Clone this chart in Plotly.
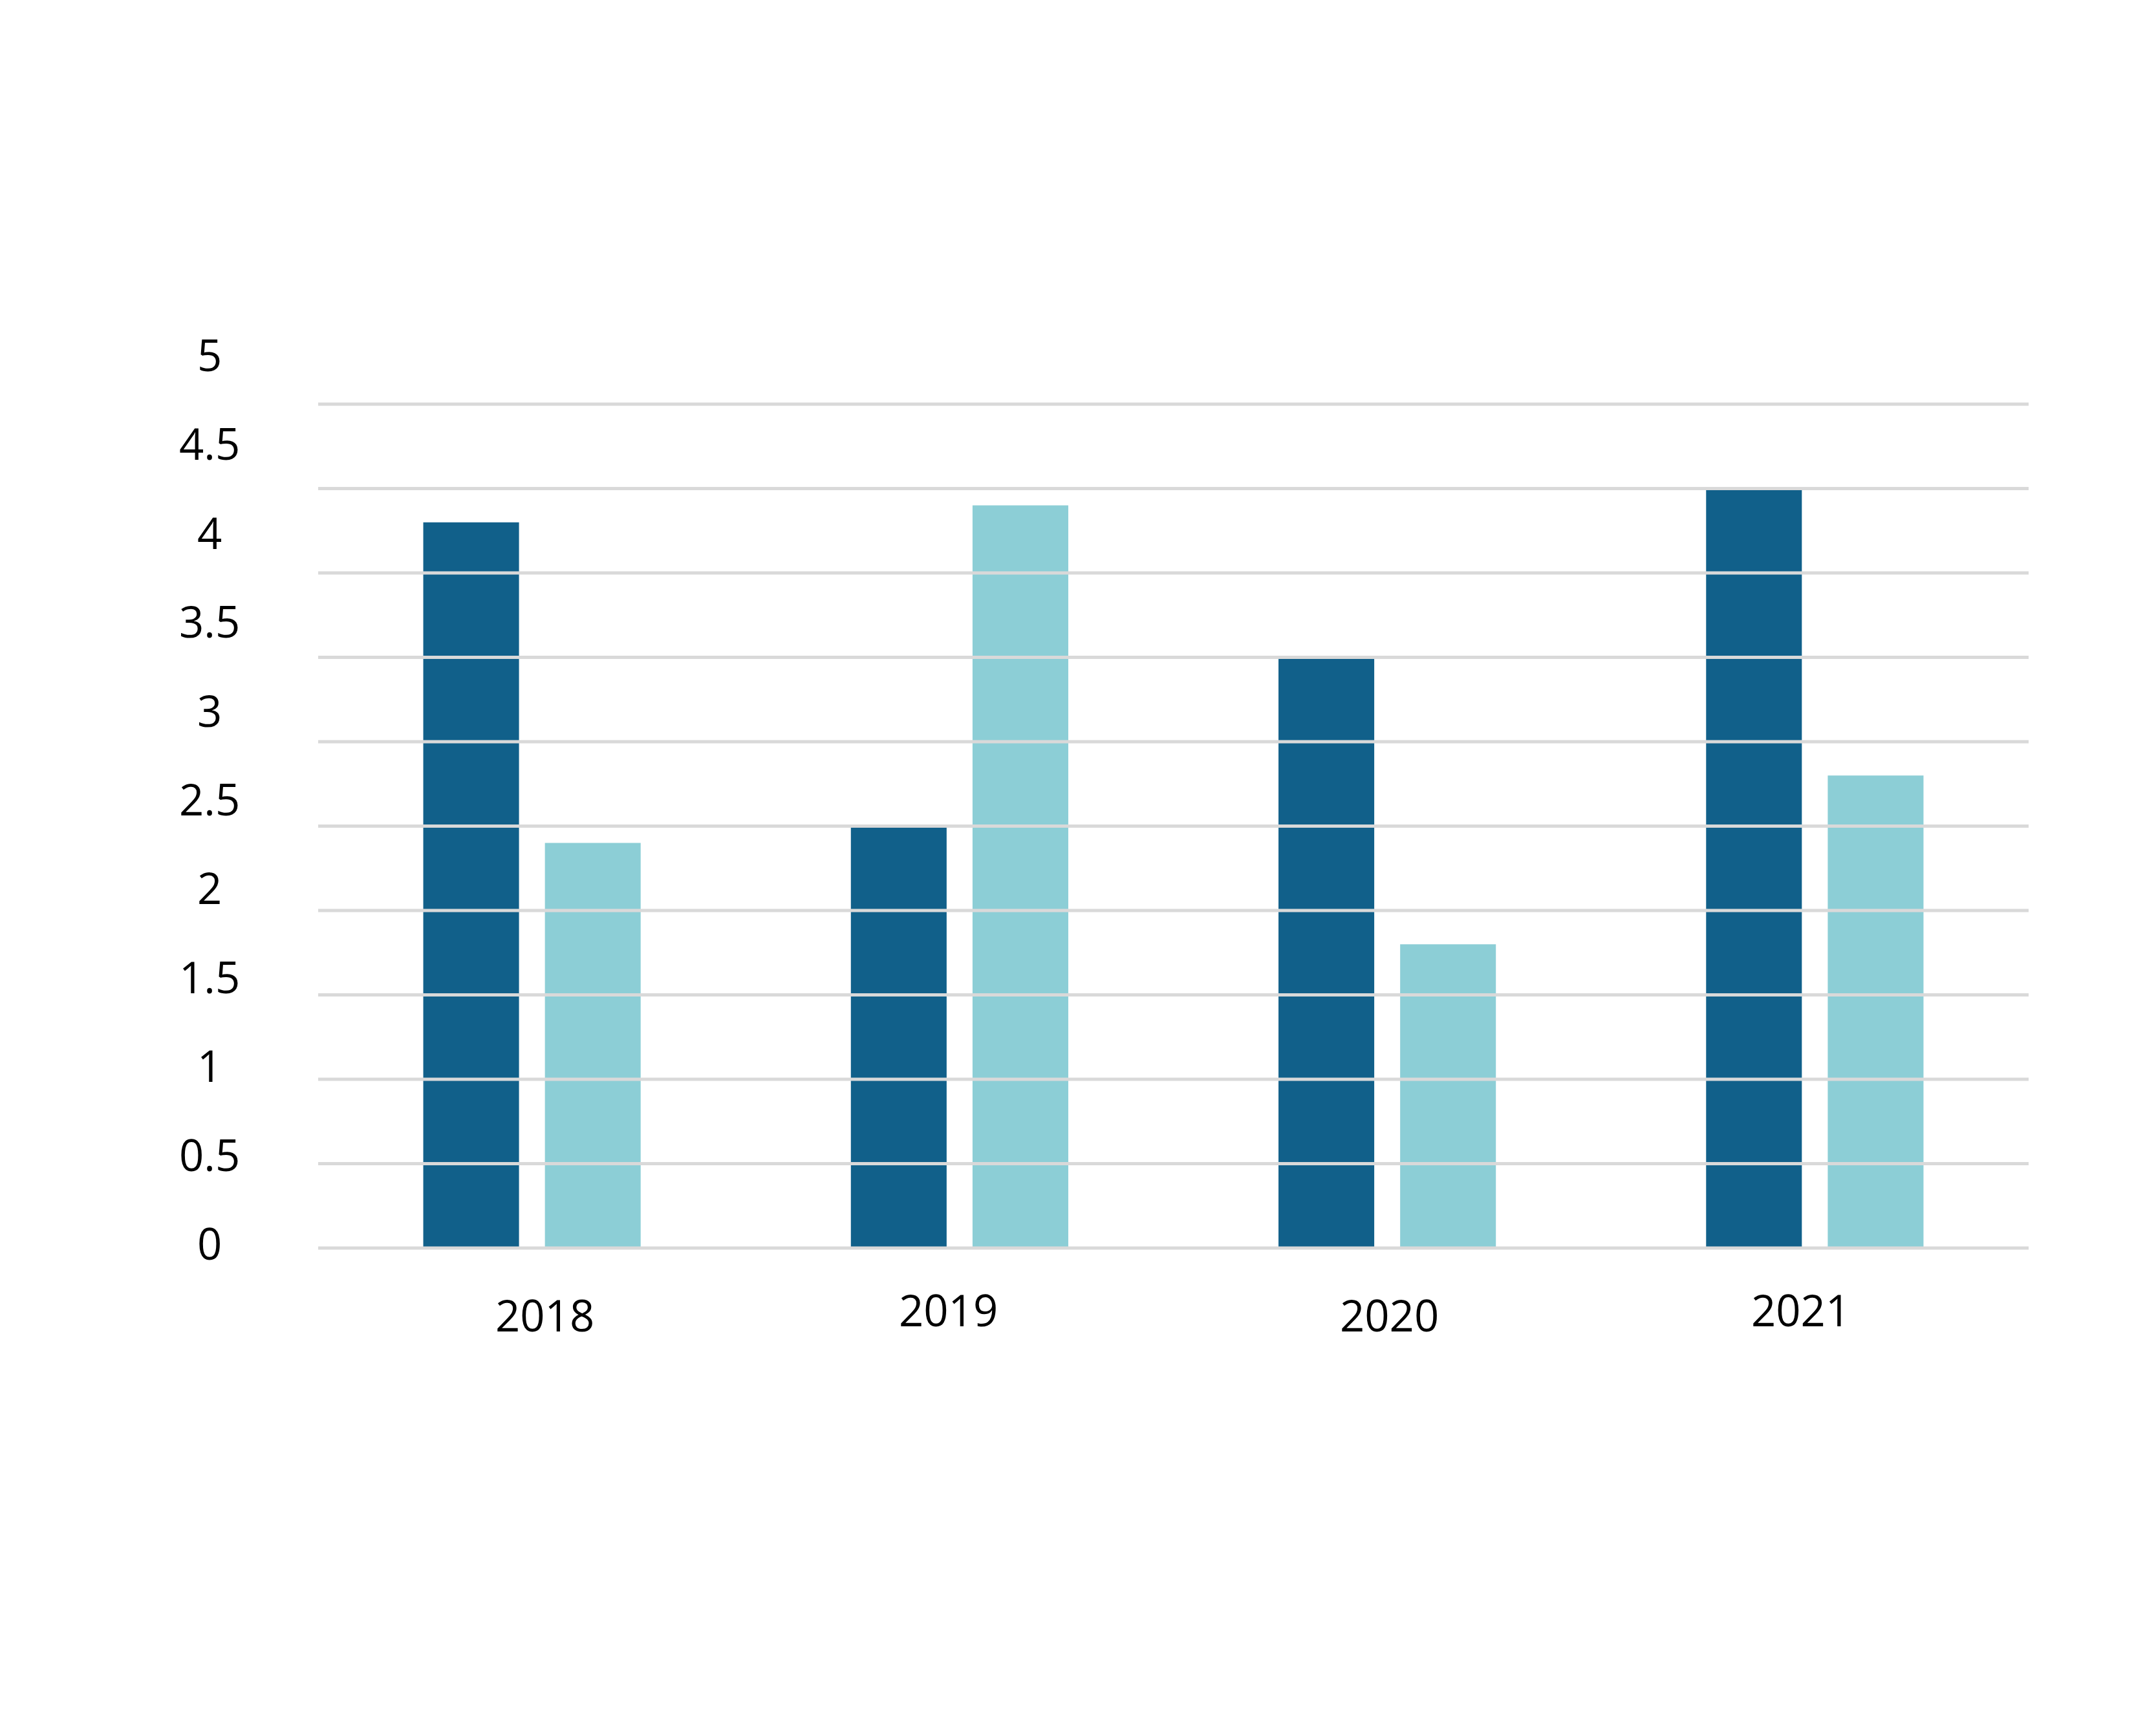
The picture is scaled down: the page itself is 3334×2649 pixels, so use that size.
import plotly.graph_objects as go

# ---- data ----
years = ["2018", "2019", "2020", "2021"]
series_dark = [4.3, 2.5, 3.5, 4.5]
series_light = [2.4, 4.4, 1.8, 2.8]
y_ticks = [0, 0.5, 1, 1.5, 2, 2.5, 3, 3.5, 4, 4.5, 5]
y_tick_labels = ["0", "0.5", "1", "1.5", "2", "2.5", "3", "3.5", "4", "4.5", "5"]

# ---- style / layout (pixels measured on the reference) ----
W, H = 3334, 2649
DARK = "#11608A"
LIGHT = "#8CCED6"
GRID = "#D9D9D9"
FONT = "Open Sans"
FS = 67
PLOT_LEFT, PLOT_RIGHT = 492, 3137
PLOT_BOTTOM, PLOT_TOP = 1930, 625       # pixel rows of values 0 and 5
PAD = 0.03                              # small range padding so edge gridlines are not clipped
LABEL_X = 324                           # centre of the y labels
LABEL_ZERO_Y, LABEL_STEP = 1922, 137.4  # y labels are spaced wider than the grid
XLABEL_Y = 2029
x_label_xshift = [20, -17, 3, -22]
x_label_yshift = [-4, 4, -4, 4]

fig = go.Figure()
fig.add_trace(go.Bar(x=years, y=series_dark, marker=dict(color=DARK, line=dict(width=0)),
                     showlegend=False, hoverinfo="skip"))
fig.add_trace(go.Bar(x=years, y=series_light, marker=dict(color=LIGHT, line=dict(width=0)),
                     showlegend=False, hoverinfo="skip"))

x0p, x1p = PLOT_LEFT / W, PLOT_RIGHT / W
ymin, ymax = y_ticks[0], y_ticks[-1]
px_per_unit = (PLOT_BOTTOM - PLOT_TOP) / (ymax - ymin)
dom_bottom = PLOT_BOTTOM + PAD * px_per_unit
dom_top = PLOT_TOP - PAD * px_per_unit

shapes = [dict(type="line", xref="paper", yref="y", x0=x0p, x1=x1p, y0=v, y1=v,
               line=dict(color=GRID, width=5), layer="above") for v in y_ticks]

annotations = []
for i, t in enumerate(y_tick_labels):
    ypix = LABEL_ZERO_Y - i * LABEL_STEP
    annotations.append(dict(x=LABEL_X / W, xref="paper", xanchor="center",
                            y=1 - ypix / H, yref="paper", yanchor="middle",
                            text=t, showarrow=False,
                            font=dict(family=FONT, size=FS, color="#000000")))
for i, (yr, dx, dy) in enumerate(zip(years, x_label_xshift, x_label_yshift)):
    annotations.append(dict(x=i, xref="x", xanchor="center", y=1 - XLABEL_Y / H,
                            yref="paper", yanchor="middle", text=yr, showarrow=False,
                            xshift=dx, yshift=dy,
                            font=dict(family=FONT, size=FS, color="#000000")))

fig.update_layout(
    width=W, height=H,
    margin=dict(l=0, r=0, t=0, b=0, pad=0),
    paper_bgcolor="white", plot_bgcolor="white",
    barmode="group", bargap=0.431, bargroupgap=0.213,
    font=dict(family=FONT, size=FS, color="#000000"),
    xaxis=dict(domain=[x0p, x1p], type="category", categoryorder="array",
               categoryarray=years, range=[-0.5, len(years) - 0.5], autorange=False,
               showgrid=False, zeroline=False,
               showline=False, showticklabels=False, ticks=""),
    yaxis=dict(domain=[1 - dom_bottom / H, 1 - dom_top / H],
               range=[ymin - PAD, ymax + PAD],
               autorange=False, showgrid=False, zeroline=False, showline=False,
               showticklabels=False, ticks=""),
    shapes=shapes,
    annotations=annotations,
)

fig.write_html("out.html", config={"displayModeBar": False},
               post_script="document.body.style.margin='0';")
